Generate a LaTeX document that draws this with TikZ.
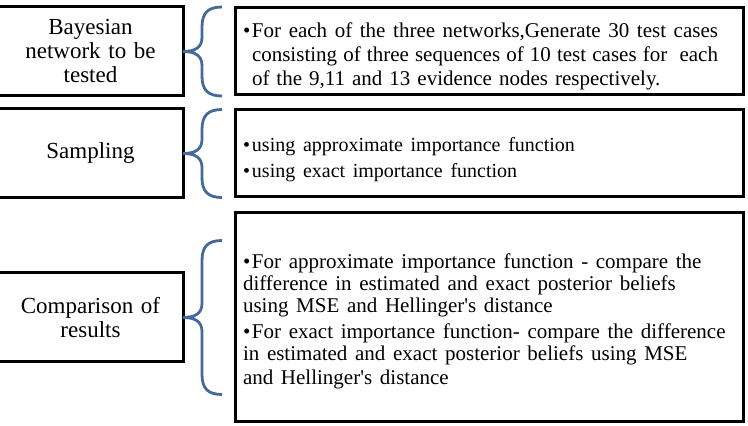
\documentclass[tikz,border=0pt]{standalone}
\usepackage{fontspec}
\setmainfont{Liberation Serif}
\usetikzlibrary{positioning,calc}
\definecolor{BraceBlue}{HTML}{46699C}
\newcommand{\bitem}[1]{\par\hangindent=9pt\hangafter=1\noindent\makebox[9pt][l]{\textbullet}#1}

\begin{document}
\begin{tikzpicture}[x=1pt, y=1pt, every node/.style={font=\fontsize{23}{24}\selectfont}, lbox/.style={draw=black, line width=3pt, outer sep=0pt, minimum width=185pt, minimum height=89pt, text width=170pt, inner sep=0pt, align=center}, rbox/.style={draw=black, line width=3pt, outer sep=0pt, minimum width=508pt, text width=492pt, inner xsep=8pt, align=left}, brc/.style={draw=BraceBlue, line width=2.8pt}]
\useasboundingbox (0,0) rectangle (748,426);
\node[lbox] (bn) at (90.5,374.5) {Bayesian\\network to be\\tested};
\node[lbox,below=13pt of bn] (smp) {Sampling};
\node[lbox,below=75pt of smp] (cmp) {Comparison of\\results};
\node[rbox,minimum height=87pt,right=52pt of bn] (tst) {\fontsize{21}{24}\selectfont\rightskip=17pt\relax\spaceskip=.3333em plus 1em minus .12em\relax\hyphenpenalty=10000\bitem{For each of the three networks,Generate 30 test cases\linebreak consisting of three sequences of 10 test cases for~ each\linebreak of the 9,11 and 13 evidence nodes respectively.}\par};
\node[rbox,minimum height=87pt,right=52pt of smp] (sam) {\fontsize{20}{26}\selectfont\bitem{using approximate importance function}\bitem{using exact importance function}\par\vspace{8pt}};
\node[rbox,minimum height=209pt,right=52pt of cmp] (res) {\fontsize{21}{22.3}\selectfont\bitem{For approximate importance function - compare the\\difference in estimated and exact posterior beliefs\\using MSE and Hellinger\textquotesingle s distance}\par\vspace{3.5pt}\bitem{For exact importance function- compare the difference\\in estimated and exact posterior beliefs using MSE\\and Hellinger\textquotesingle s distance}};
% braces from each step to its details
\foreach \l/\h in {bn/44.5,smp/44,cmp/77}{
  \draw[brc] ($(\l.east)+(39,\h)$) .. controls +(-14,0) and +(0,14) .. ++(-20,-20) -- ++(0,-\h+34) .. controls +(0,-10) and +(12,0) .. (\l.east) .. controls +(12,0) and +(0,10) .. ++(19,-14) -- ++(0,-\h+34) .. controls +(0,-14) and +(-14,0) .. ++(20,-20);
}
\end{tikzpicture}
\end{document}
